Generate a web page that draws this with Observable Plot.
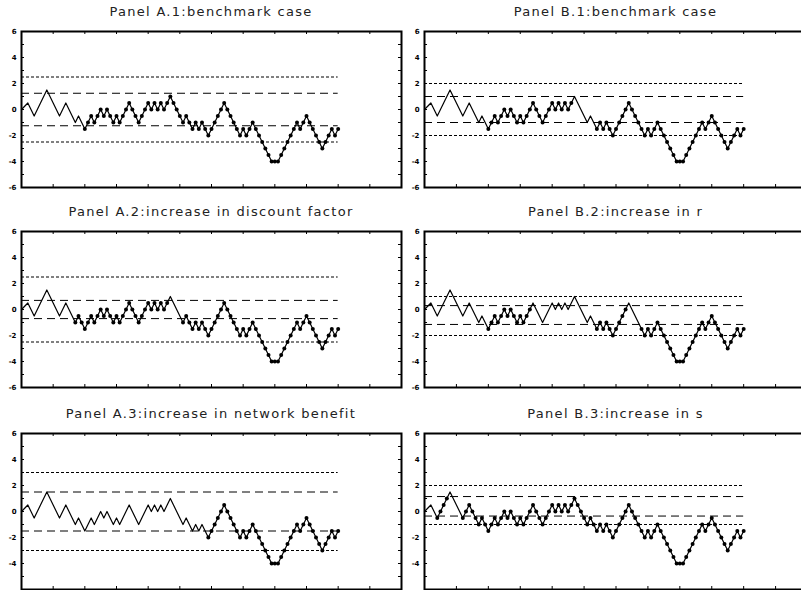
<!DOCTYPE html>
<html><head><meta charset="utf-8">
<script src="https://cdn.jsdelivr.net/npm/d3@7"></script>
<script src="https://cdn.jsdelivr.net/npm/@observablehq/plot@0.6"></script>
<style>
html,body{margin:0;padding:0;background:#fff;overflow:hidden;}
#root{position:relative;width:801px;height:590px;overflow:hidden;background:#fff;}
.panel{position:absolute;}
.title{position:absolute;font-family:"DejaVu Sans",sans-serif;font-size:13px;line-height:1;letter-spacing:1.3px;text-align:center;white-space:nowrap;color:#222;}
</style></head><body><div id="root"></div>
<script>
// ---- data ----
const titles = [
  "Panel A.1:benchmark case",
  "Panel A.2:increase in discount factor",
  "Panel A.3:increase in network benefit",
  "Panel B.1:benchmark case",
  "Panel B.2:increase in r",
  "Panel B.3:increase in s"
];
// state path, one value per period t = 0..100
const walk = [
  0, 0.25, 0.5, 0, -0.5, 0, 0.5, 1, 1.5, 1,
  0.5, 0, -0.5, 0, 0.5, 0, -0.5, -1, -0.5, -1,
  -1.5, -1, -0.5, -1, -0.5, 0, -0.5, 0, -0.5, -1,
  -0.5, -1, -0.5, 0, 0.5, 0, -0.5, -1, -0.5, 0,
  0.5, 0, 0.5, 0, 0.5, 0, 0.5, 1, 0.5, 0,
  -0.5, -1, -0.5, -1, -1.5, -1, -1.5, -1, -1.5, -2,
  -1.5, -1, -0.5, 0, 0.5, 0, -0.5, -1, -1.5, -2,
  -1.5, -2, -1.5, -1, -1.5, -2, -2.5, -3, -3.5, -4,
  -4, -4, -3.5, -3, -2.5, -2, -1.5, -1, -1.5, -1,
  -0.5, -1, -1.5, -2, -2.5, -3, -2.5, -2, -1.5, -2,
  -1.5
];
// thresholds per panel (A.1, A.2, A.3, B.1, B.2, B.3)
const outerHi = [2.5, 2.5, 3, 2, 1, 2];
const innerHi = [1.25, 0.7, 1.5, 1, 0.3, 1.15];
const innerLo = [-1.25, -0.7, -1.5, -1, -1.15, -0.35];
const outerLo = [-2.5, -2.5, -3, -2, -2, -1];
// periods marked with dots: [from, to] spans per panel
const dotSpans = [
  [[20, 100]],
  [[17, 46], [51, 100]],
  [[59, 100]],
  [[20, 46], [54, 100]],
  [[20, 33], [54, 63], [68, 100]],
  [[4, 7], [12, 100]]
];
const yLabels = [-6, -4, -2, 0, 2, 4, 6];
const yMinor = [-6, -5, -4, -3, -2, -1, 0, 1, 2, 3, 4, 5, 6];
const xTicks = [0, 10, 20, 30, 40, 50, 60, 70, 80, 90, 100, 110, 120];

// ---- layout ----
const frameTops = [31, 231, 433];
const frameH = 156;
const root = document.getElementById("root");
const series = walk.map((v, t) => ({t, v}));
const tickX = 0.95;   // inward tick length along x (data units ~3px)
const tickY = 0.23;   // inward tick length along y (data units ~3px)

for (let p = 0; p < 6; p++) {
  const col = p < 3 ? 0 : 1;
  const row = p % 3;
  const left = col === 0 ? 0 : 400;
  const width = col === 0 ? 402 : 410;
  const ml = col === 0 ? 21 : 24;
  const mr = col === 0 ? 1 : 3;
  const top = frameTops[row] - 5;
  const dots = series.filter(d => dotSpans[p].some(([a, b]) => d.t >= a && d.t <= b));
  const thr = [
    {y: outerHi[p], dash: "3,2"},
    {y: innerHi[p], dash: "8,5"},
    {y: innerLo[p], dash: "8,5"},
    {y: outerLo[p], dash: "3,2"}
  ];
  // the bottom row's lowest label falls below the picture edge in the reference
  const shown = row === 2 ? yLabels.filter(v => v > -6) : yLabels;
  const chart = Plot.plot({
    width, height: frameH + 10,
    marginLeft: ml, marginRight: mr, marginTop: 5, marginBottom: 5,
    x: {domain: [0, 120], axis: null},
    y: {domain: [-6, 6], axis: "left", ticks: 6, tickSize: 0, tickPadding: 5, label: null,
        tickFormat: d => shown.includes(d) ? String(d) : ""},
    style: {background: "transparent", overflow: "visible", fontSize: "7px", fontWeight: "bold", fontFamily: "DejaVu Sans"},
    marks: [
      ...thr.map(d => Plot.ruleY([d.y], {x1: 0, x2: 100, stroke: "#000", strokeWidth: 1, strokeDasharray: d.dash})),
      Plot.line(series, {x: "t", y: "v", stroke: "#000", strokeWidth: 1.2}),
      Plot.dot(dots, {x: "t", y: "v", r: 2, fill: "#000", stroke: null}),
      Plot.ruleY(yMinor, {x1: 0, x2: tickX, stroke: "#000"}),
      Plot.ruleY(yMinor, {x1: 120 - tickX, x2: 120, stroke: "#000"}),
      Plot.ruleX(xTicks, {y1: 6, y2: 6 - tickY, stroke: "#000"}),
      Plot.ruleX(xTicks, {y1: -6, y2: -6 + tickY, stroke: "#000"}),
      Plot.frame({stroke: "#000", strokeWidth: 2})
    ]
  });
  chart.classList.add("panel");
  chart.style.left = left + "px";
  chart.style.top = top + "px";
  root.appendChild(chart);

  const tt = document.createElement("div");
  tt.className = "title";
  tt.textContent = titles[p];
  tt.style.left = (left + ml) + "px";
  tt.style.width = (width - ml - mr) + "px";
  tt.style.top = (frameTops[row] - 26) + "px";
  root.appendChild(tt);
}
</script>
</body></html>
